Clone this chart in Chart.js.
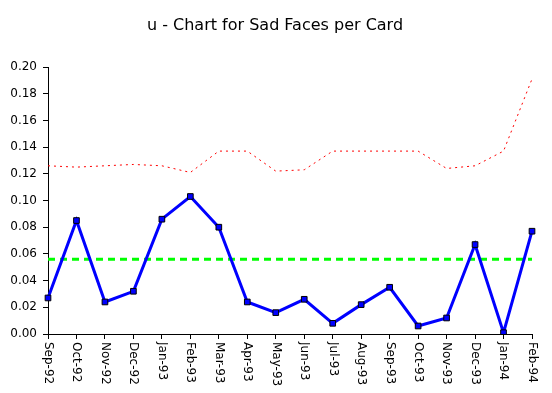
<!DOCTYPE html>
<html>
<head>
<meta charset="utf-8">
<script src="https://cdn.jsdelivr.net/npm/chart.js@4/dist/chart.umd.min.js"></script>
<style>
  html, body { margin: 0; padding: 0; background: #fff; }
  #wrap { width: 552px; height: 393px; }
</style>
</head>
<body>
<div id="wrap"><canvas id="uChart" width="552" height="393"></canvas></div>
<script>
// data
const months = ["Sep-92", "Oct-92", "Nov-92", "Dec-92", "Jan-93", "Feb-93", "Mar-93", "Apr-93", "May-93",
  "Jun-93", "Jul-93", "Aug-93", "Sep-93", "Oct-93", "Nov-93", "Dec-93", "Jan-94", "Feb-94"];
const uValues = [0.027, 0.085, 0.024, 0.032, 0.086, 0.103, 0.080, 0.024, 0.016,
  0.026, 0.008, 0.022, 0.035, 0.006, 0.012, 0.067, 0.001, 0.077];
const uclValues = [0.126, 0.125, 0.126, 0.127, 0.126, 0.121, 0.137, 0.137, 0.122,
  0.123, 0.137, 0.137, 0.137, 0.137, 0.124, 0.126, 0.137, 0.191];
const centerValues = [0.056, 0.056, 0.056, 0.056, 0.056, 0.056, 0.056, 0.056, 0.056,
  0.056, 0.056, 0.056, 0.056, 0.056, 0.056, 0.056, 0.056, 0.056];
const yTicks = [0, 0.02, 0.04, 0.06, 0.08, 0.10, 0.12, 0.14, 0.16, 0.18, 0.20];
const titleText = "u - Chart for Sad Faces per Card";

const FONT = "DejaVu Sans";

// title + x labels drawn by hand; labels rotated clockwise (reading top to bottom)
const extraText = {
  id: "extraText",
  afterDraw(chart) {
    const xs = chart.scales.x;
    const ctx = chart.ctx;
    ctx.save();
    ctx.fillStyle = "#000";

    ctx.font = "16px '" + FONT + "'";
    ctx.textAlign = "center";
    ctx.textBaseline = "middle";
    ctx.fillText(titleText, 275, 26);

    ctx.font = "12px '" + FONT + "'";
    ctx.textAlign = "left";
    months.forEach((m, i) => {
      const px = xs.getPixelForValue(i);
      ctx.save();
      ctx.translate(px, xs.top + 8);
      ctx.rotate(Math.PI / 2);
      ctx.fillText(m, 0, 0);
      ctx.restore();
    });
    ctx.restore();
  }
};

new Chart(document.getElementById("uChart"), {
  type: "line",
  data: {
    labels: months,
    datasets: [
      {
        label: "u",
        data: uValues,
        borderColor: "#0000ff",
        borderWidth: 3,
        backgroundColor: "#0000ff",
        pointStyle: "rect",
        pointRadius: 4,
        pointBorderColor: "#000",
        pointBorderWidth: 1,
        pointBackgroundColor: "#0000ff",
        tension: 0,
        order: 1
      },
      {
        label: "Center",
        data: centerValues,
        borderColor: "#00ff00",
        borderWidth: 3,
        borderDash: [7, 5],
        pointRadius: 0,
        order: 2
      },
      {
        label: "UCL",
        data: uclValues,
        borderColor: "#ff0000",
        borderWidth: 1,
        borderDash: [2, 4],
        pointRadius: 0,
        order: 3
      }
    ]
  },
  options: {
    responsive: false,
    animation: false,
    layout: { padding: { left: 0, right: 20, top: 67, bottom: 0 } },
    plugins: {
      legend: { display: false },
      tooltip: { enabled: false },
      title: { display: false }
    },
    scales: {
      x: {
        offset: false,
        grid: { display: true, drawOnChartArea: false, drawTicks: true, tickLength: 5, color: "#000" },
        border: { display: true, color: "#000", width: 1 },
        ticks: { autoSkip: false, color: "rgba(0,0,0,0)", maxRotation: 90, minRotation: 90, font: { family: FONT, size: 12 } },
        afterFit(scale) { scale.height = 59; }
      },
      y: {
        min: 0,
        max: 0.2,
        afterBuildTicks(scale) { scale.ticks = yTicks.map(v => ({ value: v })); },
        grid: { display: true, drawOnChartArea: false, drawTicks: true, tickLength: 5, color: "#000" },
        border: { display: true, color: "#000", width: 1 },
        ticks: {
          color: "#000",
          padding: 6,
          font: { family: FONT, size: 12 },
          callback: v => Number(v).toFixed(2)
        },
        afterFit(scale) { scale.width = 48; }
      }
    }
  },
  plugins: [extraText]
});
</script>
</body>
</html>
